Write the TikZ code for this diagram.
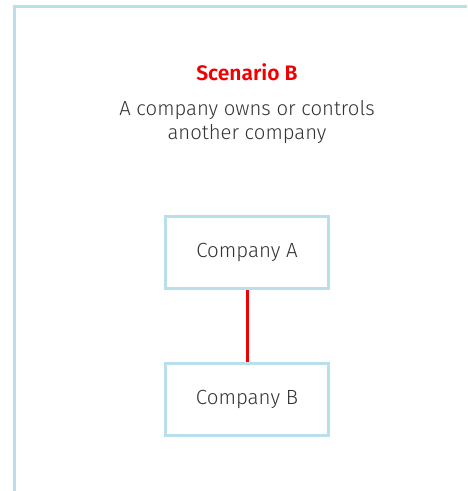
\documentclass[tikz,border=0pt]{standalone}
\usepackage{fontspec}
\setmainfont{Fira Sans}[UprightFont=* Light, BoldFont=* SemiBold]
\definecolor{frame}{HTML}{B9E0EA}
\definecolor{vred}{HTML}{F00000}
\definecolor{txt}{HTML}{333333}
\begin{document}
\begin{tikzpicture}[x=1pt,y=-1pt,
  company/.style={draw=frame,line width=3pt,fill=white,minimum width=163pt,minimum height=72pt,text=txt,font=\fontsize{20.5}{24}\selectfont,inner sep=0pt},
  link/.style={draw=vred,line width=3pt}]
\useasboundingbox (0,0) rectangle (467,491);
\draw[frame,line width=3pt] (14.5,491) -- (14.5,6.5) -- (467,6.5);
\node[text=vred,font=\bfseries\fontsize{21}{24}\selectfont,anchor=base] (title) at (247,80) {Scenario B};
\node[text=txt,font=\fontsize{20.3}{24}\selectfont,align=center,anchor=base] (desc) at (247,139) {A company owns or controls\\another company};
\node[company] (a) at (247,252.5) {Company A};
\node[company] (b) at (247,399) {Company B};
\draw[link] (a) -- (b);
\end{tikzpicture}
\end{document}
